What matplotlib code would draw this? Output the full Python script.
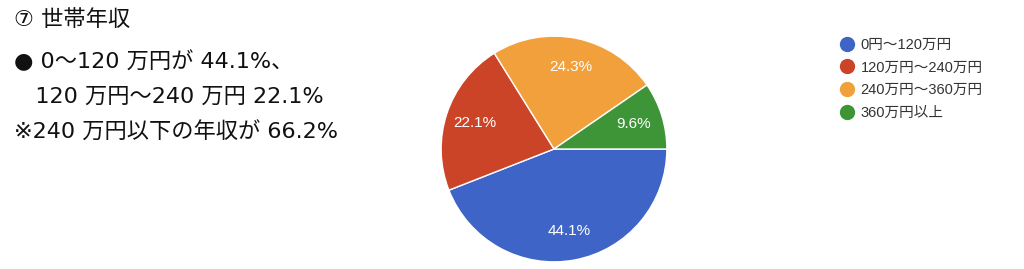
import matplotlib.pyplot as plt
from matplotlib.lines import Line2D

plt.rcParams['font.family'] = ['Noto Sans CJK JP', 'DejaVu Sans']

# data
labels = ["0円～120万円", "120万円～240万円", "240万円～360万円", "360万円以上"]
shares = [44.1, 22.1, 24.3, 9.6]
colors = ["#3f64c7", "#cb4428", "#f1a03c", "#3d9538"]

notes = ["⑦ 世帯年収",
         "● 0～120 万円が 44.1%、",
         "   120 万円～240 万円 22.1%",
         "※240 万円以下の年収が 66.2%"]

fig = plt.figure(figsize=(10.24, 2.69), dpi=100)

# left side notes
note_y = [20, 61, 97, 132]
for txt, y in zip(notes, note_y):
    fig.text(14 / 1024, 1 - y / 269, txt, fontsize=16, va="center",
             ha="left", color="#111111",
             family=["DejaVu Sans", "Noto Sans CJK JP"])

# pie
ax = fig.add_axes([440 / 1024, 6 / 269, 228 / 1024, 228 / 269])
wedges, texts, autotexts = ax.pie(
    shares, colors=colors, startangle=0, counterclock=False,
    autopct="%.1f%%", pctdistance=0.74,
    wedgeprops=dict(edgecolor="white", linewidth=1),
    textprops=dict(color="white", fontsize=11,
                   family=["Liberation Sans", "DejaVu Sans"]))
ax.set_xlim(-1.01, 1.01)
ax.set_ylim(-1.01, 1.01)
ax.set_aspect("equal")
ax.axis("off")

# legend
handles = [Line2D([], [], marker="o", linestyle="", markersize=10,
                  markerfacecolor=c, markeredgecolor=c) for c in colors]
leg = fig.legend(handles, labels, loc="upper left",
                 bbox_to_anchor=(832 / 1024, 1 - 32 / 269), frameon=False,
                 prop=dict(size=10.5, family=["Liberation Sans", "Noto Sans CJK JP"]),
                 handletextpad=0.35, labelspacing=0.6,
                 handlelength=1.2, borderaxespad=0)
for t in leg.get_texts():
    t.set_color("#333333")

fig.savefig("out.png", dpi=100)
